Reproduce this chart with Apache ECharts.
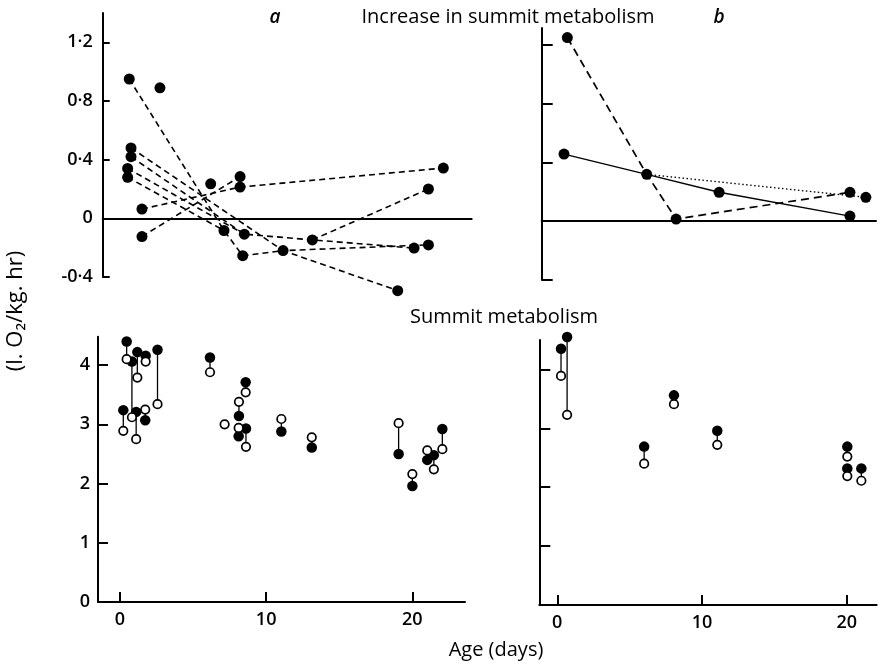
<!DOCTYPE html>
<html><head><meta charset="utf-8">
<script src="https://cdn.jsdelivr.net/npm/echarts@6/dist/echarts.min.js"></script>
<style>html,body{margin:0;padding:0;background:#fff}#c{width:881px;height:668px}</style>
</head><body><div id="c"></div><script>
// ---------- DATA ----------
// Panel a (top-left): increase in summit metabolism, [age days, value]
const incA = [
  [0.68, 0.95], [2.78, 0.89], [0.8, 0.48], [0.8, 0.42], [0.57, 0.34], [0.57, 0.28],
  [1.55, 0.063], [1.55, -0.124], [6.25, 0.235], [8.26, 0.285], [8.26, 0.213],
  [7.16, -0.083], [8.55, -0.108], [8.44, -0.255], [11.2, -0.22], [13.2, -0.147],
  [19.04, -0.493], [20.16, -0.203], [21.14, -0.181], [21.14, 0.2], [22.16, 0.343]
];
// dashed connections (indices into incA)
const pathsA = [
  [0, 11, 13, 14, 16], [2, 14, 18], [3, 12, 15, 17], [4, 12], [5, 11],
  [6, 10, 20], [7, 9], [15, 19]
];
// Panel b (top-right)
const incB = [
  [0.69, 1.25], [0.46, 0.457], [6.17, 0.319], [8.2, 0.015],
  [11.17, 0.197], [20.2, 0.197], [21.3, 0.163], [20.2, 0.035]
];
const dashedB = [0, 2, 3, 5];
const solidB = [1, 2, 4, 7];
const dottedB = [2, 6];
// Summit metabolism, [age days, filled value, open value]
const pairsA = [
  [0.46, 4.40, 4.10], [0.82, 4.06, 3.12], [1.19, 4.22, 3.79], [1.11, 3.21, 2.75],
  [0.23, 3.24, 2.89], [1.76, 4.16, 4.06], [1.73, 3.07, 3.25], [2.57, 4.26, 3.34],
  [6.16, 4.13, 3.88], [8.6, 3.71, 3.54], [8.14, 3.14, 3.38], [8.62, 2.93, 2.62],
  [8.12, 2.80, 2.94], [11.04, 2.88, 3.09], [13.12, 2.61, 2.78], [19.06, 2.50, 3.02],
  [20.0, 1.96, 2.16], [21.02, 2.40, 2.56], [21.47, 2.48, 2.24], [22.05, 2.92, 2.58]
];
const openOnlyA = [[7.16, 3.0]];
const pairsB = [
  [0.26, 4.35, 3.89], [0.68, 4.55, 3.23], [6.0, 2.69, 2.40], [8.06, 3.56, 3.41],
  [11.05, 2.96, 2.72], [20.03, 2.69, 2.52], [20.03, 2.32, 2.19], [21.0, 2.32, 2.11]
];
// Tick values / labels
const xTicks = [0, 10, 20];
const yTicksTop = [-0.4, 0, 0.4, 0.8, 1.2];
const yTickLabelsTop = ['-0·4', '0', '0·4', '0·8', '1·2'];
const yTicksBottom = [0, 1, 2, 3, 4];

// ---------- CHART ----------
const FONT = '"Open Sans", "DejaVu Sans", sans-serif';
const axisLine = { show: true, onZero: true, lineStyle: { color: '#000', width: 2 } };
const chart = echarts.init(document.getElementById('c'));

function xAxis(grid, min, max, labels) {
  return {
    type: 'value', gridIndex: grid, min: min, max: max, splitLine: { show: false },
    axisLine: axisLine,
    axisTick: labels ? { show: true, inside: true, length: 10, customValues: xTicks, lineStyle: { width: 2, color: '#000' } } : { show: false },
    axisLabel: labels ? { show: true, customValues: xTicks, margin: 9, color: '#000', fontSize: 18, fontWeight: 600, fontFamily: FONT } : { show: false }
  };
}
function yAxis(grid, min, max, ticks, labels, tickLen, margin) {
  return {
    type: 'value', gridIndex: grid, min: min, max: max, splitLine: { show: false },
    axisLine: { show: true, onZero: false, lineStyle: { color: '#000', width: 2 } },
    axisTick: { show: true, inside: true, length: tickLen, customValues: ticks, lineStyle: { width: 2, color: '#000' } },
    axisLabel: labels ? {
      show: true, customValues: ticks, margin: margin, color: '#000', fontSize: 18, fontWeight: 600, fontFamily: FONT,
      formatter: function (v) { const i = ticks.findIndex(t => Math.abs(t - v) < 1e-6); return i >= 0 ? labels[i] : ''; }
    } : { show: false }
  };
}

const series = [];
pathsA.forEach(p => series.push({
  type: 'line', xAxisIndex: 0, yAxisIndex: 0, data: p.map(i => incA[i]), symbol: 'none', z: 2, clip: false,
  lineStyle: { color: '#000', width: 1.6, type: [6, 4] }, silent: true
}));
const dot = { color: '#000', opacity: 1 };
series.push({ type: 'scatter', xAxisIndex: 0, yAxisIndex: 0, data: incA, symbolSize: 11, itemStyle: dot, z: 5, clip: false });

series.push({ type: 'line', xAxisIndex: 1, yAxisIndex: 1, data: dashedB.map(i => incB[i]), symbol: 'none', z: 2, clip: false, lineStyle: { color: '#000', width: 1.7, type: [8, 5] } });
series.push({ type: 'line', xAxisIndex: 1, yAxisIndex: 1, data: solidB.map(i => incB[i]), symbol: 'none', z: 2, clip: false, lineStyle: { color: '#000', width: 1.4, type: 'solid' } });
series.push({ type: 'line', xAxisIndex: 1, yAxisIndex: 1, data: dottedB.map(i => incB[i]), symbol: 'none', z: 2, clip: false, lineStyle: { color: '#000', width: 1.3, type: [1.5, 2.5] } });
series.push({ type: 'scatter', xAxisIndex: 1, yAxisIndex: 1, data: incB, symbolSize: 11, itemStyle: dot, z: 5, clip: false });

function pairSeries(gi, pairs, openOnly) {
  series.push({
    type: 'custom', xAxisIndex: gi, yAxisIndex: gi, data: pairs, z: 2, clip: false,
    encode: { x: 0, y: [1, 2] },
    renderItem: function (params, api) {
      const d = api.value(0);
      const p1 = api.coord([d, api.value(1)]), p2 = api.coord([d, api.value(2)]);
      return { type: 'line', shape: { x1: p1[0], y1: p1[1], x2: p2[0], y2: p2[1] }, style: { stroke: '#000', lineWidth: 1.3 } };
    }
  });
  series.push({ type: 'scatter', xAxisIndex: gi, yAxisIndex: gi, data: pairs.map(p => [p[0], p[1]]), symbolSize: 10.5, itemStyle: dot, z: 5, clip: false });
  series.push({ type: 'scatter', xAxisIndex: gi, yAxisIndex: gi, data: pairs.map(p => [p[0], p[2]]).concat(openOnly), symbolSize: 8.5,
    itemStyle: { color: '#fff', borderColor: '#000', borderWidth: 1.7, opacity: 1 }, z: 6, clip: false });
}
pairSeries(2, pairsA, openOnlyA);
pairSeries(3, pairsB, []);

const txt = (x, y, text, size, extra) => Object.assign({
  type: 'text', x: x, y: y,
  style: Object.assign({ text: text, fontSize: size, fontFamily: FONT, fill: '#000', align: 'center', verticalAlign: 'middle' }, extra || {})
});

chart.setOption({
  animation: false,
  backgroundColor: '#fff',
  grid: [
    { left: 102.7, top: 13, width: 369, height: 264 },
    { left: 541.7, top: 28, width: 334.3, height: 252 },
    { left: 98, top: 336.7, width: 367, height: 265.3 },
    { left: 539.3, top: 340, width: 337.4, height: 265 }
  ],
  xAxis: [
    xAxis(0, -1.135, 24.1, false),
    xAxis(1, -1.08, 22.0, false),
    xAxis(2, -1.5, 23.6, true),
    xAxis(3, -1.24, 22.06, true)
  ],
  yAxis: [
    yAxis(0, -0.4, 1.4, yTicksTop, yTickLabelsTop, 7, 10),
    yAxis(1, -0.4, 1.315, yTicksTop, null, 11, 10),
    yAxis(2, 0, 4.48, yTicksBottom, yTicksBottom.map(String), 10, 8),
    yAxis(3, 0, 4.5, yTicksBottom, null, 11, 8)
  ],
  series: series,
  graphic: [
    txt(508, 17, 'Increase in summit metabolism', 20),
    txt(275, 18, 'a', 19, { fontStyle: 'italic', fontWeight: 600 }),
    txt(719, 18, 'b', 19, { fontStyle: 'italic', fontWeight: 600 }),
    txt(504, 317, 'Summit metabolism', 20),
    txt(496, 650, 'Age (days)', 20),
    Object.assign(txt(16, 311, '(l. O₂/kg. hr)', 22), { rotation: Math.PI / 2 })
  ]
});
</script></body></html>
